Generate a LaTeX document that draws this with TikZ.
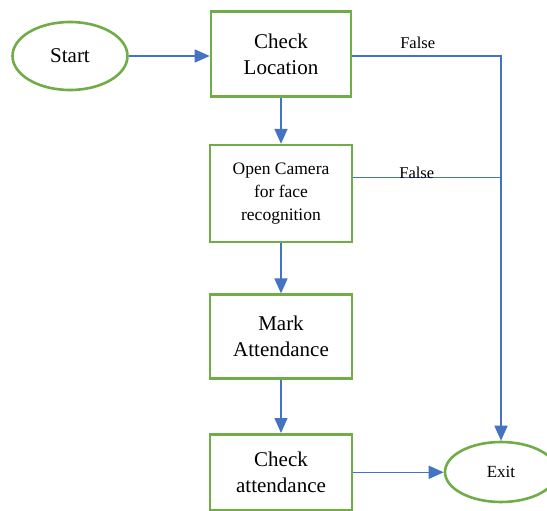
\documentclass[tikz,border=0pt]{standalone}
\usepackage{fontspec}
\setmainfont{Liberation Serif}
\usepackage{tikz}
\usetikzlibrary{positioning, arrows.meta, shapes.geometric}
\definecolor{boxgreen}{RGB}{112,173,71}
\definecolor{lineblue}{RGB}{68,114,196}

\begin{document}
\begin{tikzpicture}[
  x=1pt, y=1pt,
  node distance=49pt,
  term/.style={ellipse, draw=boxgreen, line width=2.6pt, fill=white,
               align=center, inner sep=0pt,
               minimum width=115pt, minimum height=68pt,
               font=\fontsize{21}{24}\selectfont},
  proc/.style={rectangle, draw=boxgreen, line width=2.6pt,
               align=center, inner sep=0pt,
               minimum width=142pt, minimum height=84pt,
               font=\fontsize{21}{26}\selectfont},
  arr/.style={-{Triangle[length=15pt, width=13pt]}, draw=lineblue,
              line width=1.6pt},
  flow/.style={draw=lineblue, line width=1.6pt},
  lbl/.style={font=\fontsize{16.5}{18}\selectfont}
]
\useasboundingbox (0,0) rectangle (547,-511);

\node[term] (start) at (70,-56) {Start};
\node[proc, minimum width=140pt, minimum height=85pt] (chkloc) at (281,-54) {Check\\Location};
\node[proc, minimum height=97pt, font=\fontsize{17.5}{23}\selectfont,
      below=46pt of chkloc] (cam) {Open Camera\\for face\\recognition};
\node[proc, below=50pt of cam] (mark) {Mark\\Attendance};
\node[proc, minimum height=76pt, below=53pt of mark] (chkatt) {Check\\attendance};
\node[term, minimum width=112pt, minimum height=60pt,
      font=\fontsize{17}{20}\selectfont] (exit) at (501,-472) {Exit};

\coordinate (camf) at ([yshift=16pt]cam.east);

\draw[arr] (start.east) -- (start.east -| chkloc.west);
\draw[arr] (chkloc) -- (cam);
\draw[arr] (cam) -- (mark);
\draw[arr] (mark) -- (chkatt);
\draw[arr] (chkatt.east) -- (chkatt.east -| exit.west);
\draw[arr] (start.east -| chkloc.east) -| node[lbl, pos=0.22, above=3pt] {False} (exit.north);
\draw[flow] (camf) -- node[lbl, pos=0.43, yshift=5pt] {False} (camf -| exit.north);
\end{tikzpicture}
\end{document}
